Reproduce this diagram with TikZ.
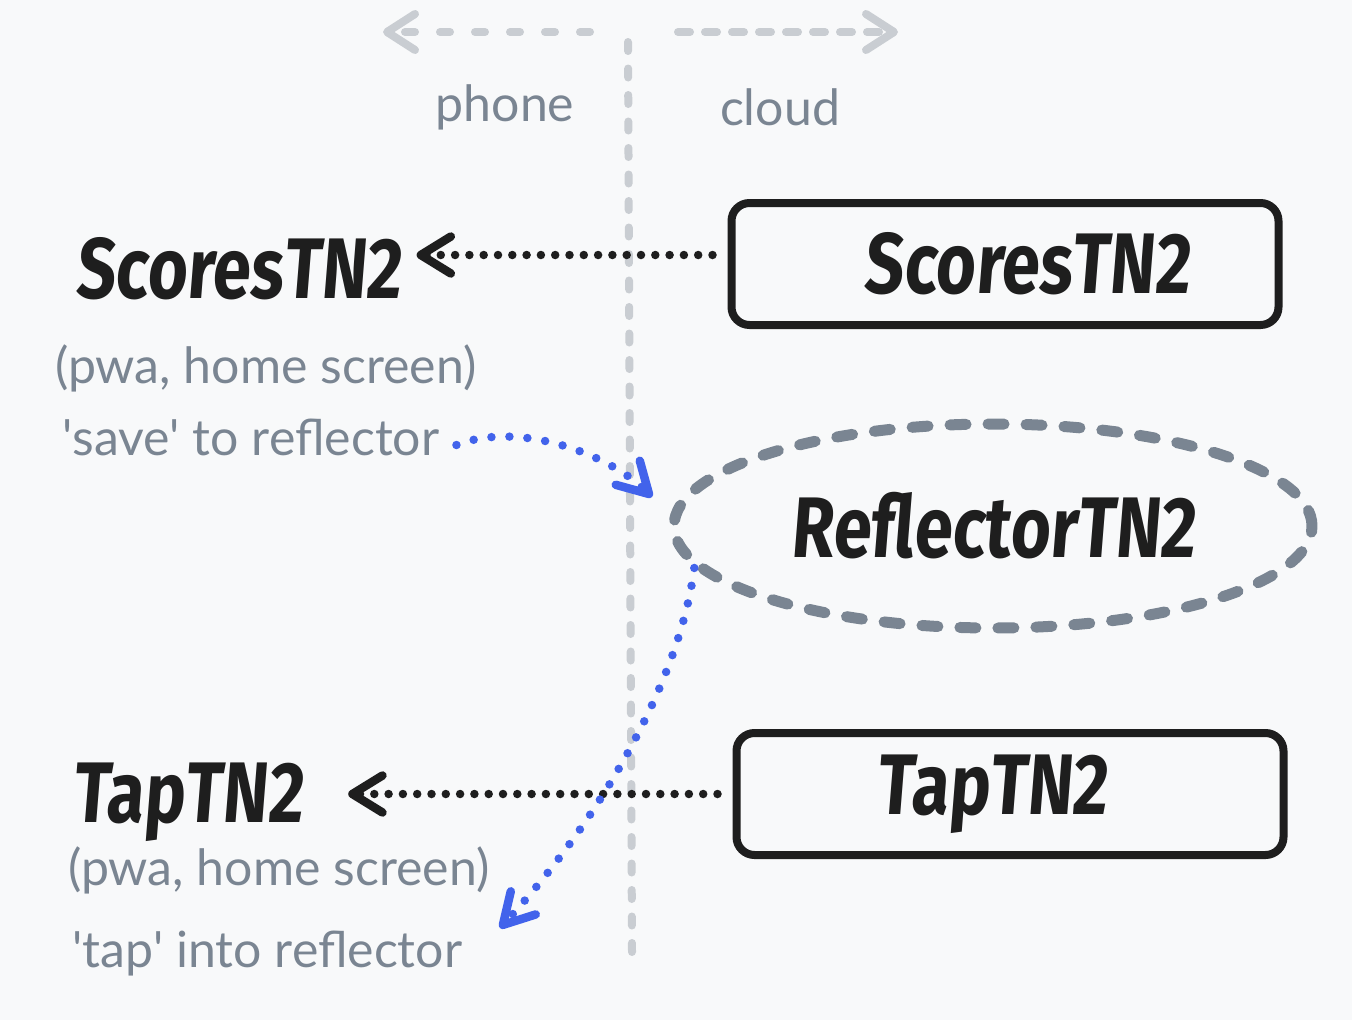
\documentclass[tikz,border=0pt]{standalone}
\usepackage{fontspec}
\usepackage{xcolor}
\usepackage{tikz}
\usetikzlibrary{arrows.meta,shapes.geometric}

\setmainfont{Lato}
\newfontfamily\handfont[FakeStretch=0.8,FakeSlant=0.08]{Fira Sans}

\definecolor{paper}{HTML}{F8F9FA}
\definecolor{slate}{HTML}{7A8592}
\definecolor{mist}{HTML}{C9CDD2}
\definecolor{ink}{HTML}{1E1E1E}
\definecolor{linkblue}{HTML}{4263EB}

\tikzset{
    note/.style={text=slate, font=\fontsize{50}{58}\selectfont, inner sep=0pt},
    hand/.style={text=ink, font=\handfont\bfseries\fontsize{86}{96}\selectfont, inner sep=0pt},
    appbox/.style={hand, draw=ink, line width=8pt, rounded corners=18pt, minimum width=547pt, minimum height=122pt},
    reflbox/.style={hand, shape=ellipse, draw=slate, line width=11pt, line cap=round, dash pattern=on 16pt off 22pt, minimum width=638pt, minimum height=204pt},
    sideline/.style={draw=mist, line width=8pt, line cap=round},
    sidetip/.style={-{Straight Barb[length=28pt,width=36pt,round]}},
    inkdots/.style={draw=ink, line width=8.5pt, line cap=round, dash pattern=on 0pt off 14.3pt, -{Straight Barb[length=30pt,width=37pt,round]}},
    bluelink/.style={draw=linkblue, line width=8.5pt, line cap=round, dash pattern=on 0pt off 18pt, -{Straight Barb[length=30pt,width=34pt,round]}}
}

\begin{document}
\begin{tikzpicture}[x=1pt, y=-1pt]
    \path[use as bounding box, fill=paper] (0,0) rectangle (1352,1020);

    \coordinate (divtop) at (628,42);
    \coordinate (divbot) at (632,952);
    \coordinate (phonefrom) at (590,32);
    \coordinate (phoneto) at (383,32);
    \coordinate (cloudfrom) at (678,32);
    \coordinate (cloudto) at (898,32);
    \coordinate (saveend) at (652,497);
    \coordinate (tapend) at (500,928);

    \draw [sideline, dash pattern=on 9pt off 17.5pt] (divtop) -- (divbot);
    \draw [sideline, sidetip, dash pattern=on 10pt off 25pt] (phonefrom) -- (phoneto);
    \draw [sideline, sidetip, dash pattern=on 12pt off 15pt] (cloudfrom) -- (cloudto);

    \node[note] (phone) at (505,107) {phone};
    \node[note] (cloud) at (780,107) {cloud};

    \node[appbox] (sbox) at (1005,264) {\hspace*{44pt}ScoresTN2};
    \node[reflbox] (refl) at (993,526) {ReflectorTN2};
    \node[appbox] (tbox) at (1010,794) {TapTN2\hspace*{36pt}};

    \node[hand, anchor=base west] (slabel) at (75,298) {ScoresTN2};
    \node[note, anchor=base west] (shint) at (55,383) {(pwa, home screen)};
    \node[note, anchor=base west] (save) at (62,455) {\textquotesingle save\textquotesingle{} to reflector};

    \node[hand, anchor=base west] (tlabel) at (72,822) {TapTN2};
    \node[note, anchor=base west] (thint) at (68,885) {(pwa, home screen)};
    \node[note, anchor=base west] (tap) at (72,967) {\textquotesingle tap\textquotesingle{} into reflector};

    \draw [inkdots, shorten <=15pt, shorten >=15pt] ([yshift=9pt]sbox.west) -- ([yshift=9pt]sbox.west -| slabel.east);
    \draw [inkdots, shorten <=15pt, shorten >=45pt] (tbox.west) -- (tbox.west -| tlabel.east);

    \draw [bluelink] ([xshift=17pt,yshift=10pt]save.base east) .. controls (520,420) and (610,455) .. (saveend);
    \draw [bluelink] (refl.188) .. controls (680,680) and (600,820) .. (tapend);
\end{tikzpicture}
\end{document}
